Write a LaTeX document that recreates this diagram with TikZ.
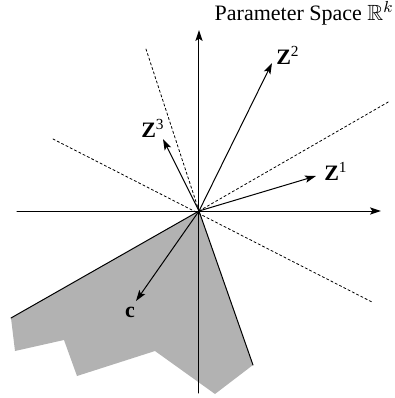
\documentclass[tikz,border=0pt]{standalone}
\usepackage{amssymb}
\usepackage{fontspec}
\setmainfont{Liberation Serif}
\usetikzlibrary{arrows.meta}
\begin{document}
\begin{tikzpicture}[>={Stealth[length=5.5pt,width=3.6pt,inset=1.2pt]},x=0.5pt,y=0.5pt,line join=round,line cap=round,
	every node/.style={font=\fontsize{11}{13}\selectfont,inner sep=0pt},
	vec/.style={->,line width=0.5pt},
	hyper/.style={line width=0.4pt,dash pattern=on 1.2pt off 1.2pt}]
	\useasboundingbox (-199,-187) rectangle (196,211);
	\coordinate (O) at (0,0);
	% cone of feasible directions
	\fill[black!30] (O) -- (-188,-107) -- (-184,-140) -- (-135,-129) -- (-122,-165)
	-- (-44,-140) -- (16,-183) -- (54,-154) -- cycle;
	\draw[line width=0.5pt] (-188,-107) -- (O) -- (54,-154);
	% axes
	\draw[->,line width=0.5pt] (-182,0) -- (182,0);
	\draw[->,line width=0.5pt] (0,-182) -- (0,181);
	% hyperplanes
	\draw[hyper] (-53,162) -- (O);
	\draw[hyper] (-146,72) -- (173,-91);
	\draw[hyper] (O) -- (191,110);
	% vectors
	\coordinate (z1) at (117,35);
	\coordinate (z2) at (73,148);
	\coordinate (z3) at (-36,72);
	\coordinate (c) at (-63,-90);
	\draw[vec] (O) -- (z1);
	\draw[vec] (O) -- (z2);
	\draw[vec] (O) -- (z3);
	\draw[vec] (O) -- (c);
	\node (lz1) at (137,40) {\textbf{Z}\textsuperscript{1}};
	\node (lz2) at (89,156) {\textbf{Z}\textsuperscript{2}};
	\node (lz3) at (-46,83) {\textbf{Z}\textsuperscript{3}};
	\node (lc) at (-69,-101) {\textbf{c}};
	\node[anchor=east] (title) at (195,198) {Parameter Space $\mathbb{R}^k$};
\end{tikzpicture}
\end{document}
